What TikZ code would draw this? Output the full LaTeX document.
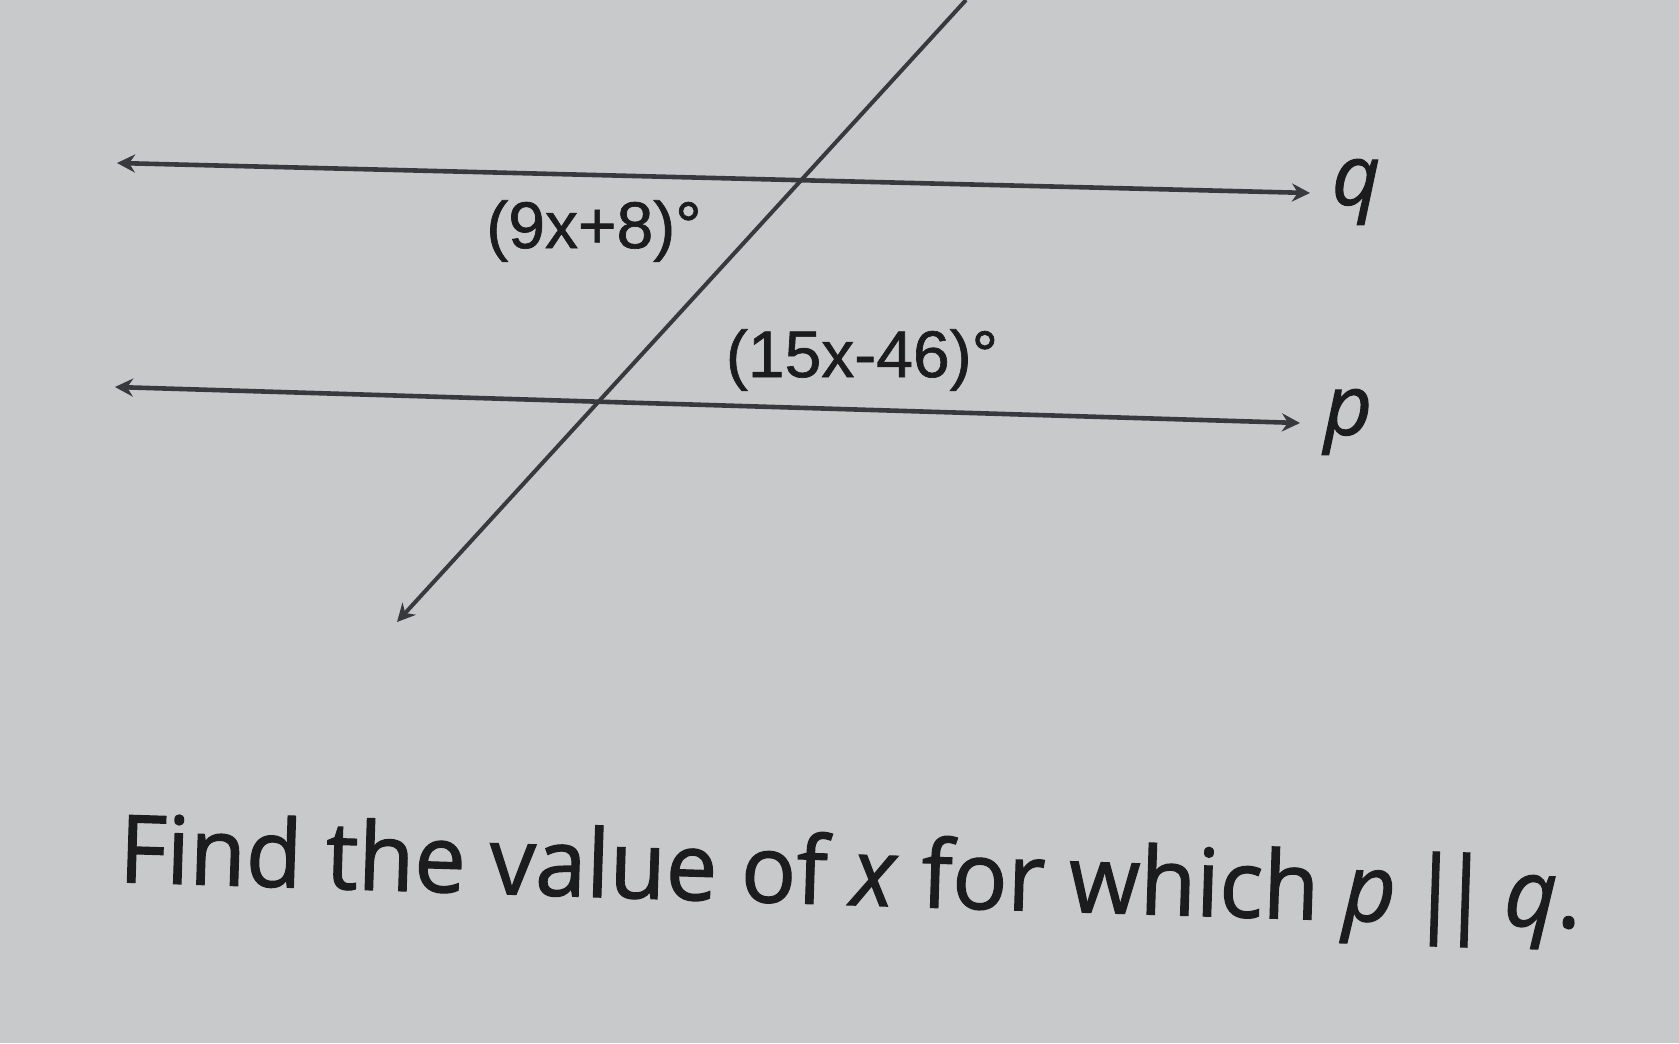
\documentclass[tikz,border=0pt]{standalone}
\usepackage{fontspec}
\setmainfont{Open Sans}
\newfontfamily\questfont{Open Sans}[FakeBold=1.3]
\newfontfamily\labelfont{Liberation Sans}[FakeBold=1.0]
\usetikzlibrary{arrows.meta}
\definecolor{bg}{RGB}{200,201,203}
\definecolor{ln}{RGB}{55,57,60}
\definecolor{tx}{RGB}{28,28,30}
\tikzset{
  line/.style={draw=ln, line width=2.3pt, {Stealth[length=9pt,width=9pt]}-{Stealth[length=9pt,width=9pt]}},
  ray/.style={draw=ln, line width=2pt, -{Stealth[length=9pt,width=9pt]}},
  anglab/.style={font=\labelfont\fontsize{33}{33}\selectfont, text=tx, inner sep=0pt},
  linelab/.style={font=\questfont\fontsize{42}{42}\selectfont\itshape, text=tx, inner sep=0pt},
  question/.style={font=\questfont\fontsize{47}{47}\selectfont, text=tx, inner sep=0pt, anchor=base west, rotate=-1.8, xscale=0.975}
}
\begin{document}
\begin{tikzpicture}[x=0.5pt,y=-0.5pt]
\fill[bg] (0,0) rectangle (1679,1043);
\useasboundingbox (0,0) rectangle (1679,1043);
\coordinate (qL) at (117,163);
\coordinate (qR) at (1310,193);
\coordinate (pL) at (115,387);
\coordinate (pR) at (1300,423);
\coordinate (tT) at (966,0);
\coordinate (tB) at (397,622);
\draw[line] (qL) -- (qR);
\draw[line] (pL) -- (pR);
\draw[ray] (tT) -- (tB);
\node[linelab] (ql) at (1356,192) {q};
\node[linelab] (pl) at (1348,422) {p};
\node[anglab] (a1) at (594,231) {(9x+8)°};
\node[anglab] (a2) at (862,360) {(15x-46)°};
\node[question] (qu) at (118,882) {Find the value of \textit{x} for which \textit{p}\hspace{0.15em}|\kern-0.22em|\hspace{0.15em}\textit{q}.};
\end{tikzpicture}
\end{document}
